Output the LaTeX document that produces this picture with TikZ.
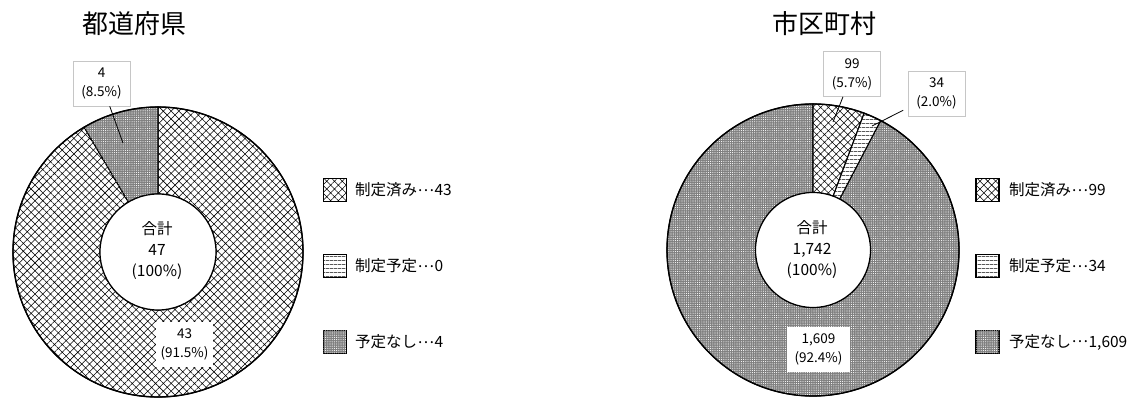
\documentclass[tikz,border=0pt]{standalone}
\usepackage{fontspec}
\setmainfont{Noto Sans CJK JP}
\usetikzlibrary{patterns.meta,calc}
\newcommand{\ringseg}[6]{%
  \path[#6] ($(#1)+(#2:#4)$) arc[start angle=#2,end angle=#3,radius=#4]
    -- ($(#1)+(#3:#5)$) arc[start angle=#3,end angle=#2,radius=#5] -- cycle;}
\newcommand{\middots}{\hspace{0.5pt}\raisebox{0.3em}{…}\hspace{0.5pt}}
\tikzset{
  seg/.style={draw=black,line width=1.1pt},
  donestyle/.style={fill=white,postaction={pattern={Hatch[angle=45,distance=5.5pt,line width=0.55pt]}}},
  planstyle/.style={fill=white,postaction={pattern={Lines[angle=0,distance=4pt,line width=0.6pt]}}},
  nonestyle/.style={fill=black!50,postaction={pattern={Dots[radius=0.55pt,distance=2.2pt]},pattern color=white}},
  titletext/.style={font=\fontsize{26}{30}\selectfont},
  ctrtext/.style={align=center,font=\fontsize{15.5}{21}\selectfont},
  labbox/.style={draw=gray!45,line width=0.6pt,fill=white,align=center,inner sep=2pt,
    minimum width=57pt,minimum height=45pt,font=\fontsize{13.5}{19}\selectfont},
  labplain/.style={labbox,draw=none},
  leader/.style={draw=black,line width=0.8pt},
  legsq/.style={draw=black,line width=1.6pt,minimum size=23pt,inner sep=0pt},
  legtext/.style={anchor=west,inner sep=0pt,font=\fontsize{15.5}{18}\selectfont}
}
\begin{document}
\begin{tikzpicture}[x=1pt,y=1pt]
\useasboundingbox (0,0) rectangle (1131,399);
% ---------- left donut ----------
\coordinate (c1) at (158,147);
\node[titletext] (t1) at (134,375) {都道府県};
\ringseg{c1}{120.6}{450}{145}{58}{seg,donestyle}
\ringseg{c1}{90}{120.6}{145}{58}{seg,nonestyle}
\draw[line width=1.4pt] (c1) circle[radius=145];
\draw[line width=1.2pt,fill=white] (c1) circle[radius=58];
\node[ctrtext] (ctr1) at (157,148) {合計\\47\\(100\%)};
\node[labbox] (lab4) at (101.5,315.5) {4\\(8.5\%)};
\coordinate (tip4) at (123,256);
\draw[leader] (lab4) -- (tip4);
\node[labplain] (lab43) at (184.5,54.5) {43\\(91.5\%)};
% legend left
\node[legsq,donestyle] (lk1) at (335,209) {};
\node[legsq,planstyle] (lk2) at (335,133) {};
\node[legsq,nonestyle] (lk3) at (335,57) {};
\node[legtext] (lt1) at (355,209) {制定済み\middots 43};
\node[legtext] (lt2) at (355,133) {制定予定\middots 0};
\node[legtext] (lt3) at (355,57) {予定なし\middots 4};
% ---------- right donut ----------
\coordinate (c2) at (813,149);
\node[titletext] (t2) at (824,375) {市区町村};
\ringseg{c2}{90}{422.4}{146}{57.5}{seg,nonestyle}
\ringseg{c2}{69.5}{90}{146}{57.5}{seg,donestyle}
\ringseg{c2}{62.4}{69.5}{146}{57.5}{seg,planstyle}
\draw[line width=1.4pt] (c2) circle[radius=146];
\draw[line width=1.2pt,fill=white] (c2) circle[radius=57.5];
\node[ctrtext] (ctr2) at (812,149) {合計\\1,742\\(100\%)};
\node[labbox] (lab99) at (852,325) {99\\(5.7\%)};
\coordinate (tip99) at (833,277);
\draw[leader] (lab99) -- (tip99);
\node[labbox] (lab34) at (936.5,305.5) {34\\(2.0\%)};
\coordinate (tip34) at (872,273);
\draw[leader,shorten <=5pt] (lab34) -- (tip34);
\node[labplain,minimum width=63pt] (lab1609) at (818.5,49.5) {1,609\\(92.4\%)};
% legend right
\node[legsq,donestyle] (rk1) at (987.5,209) {};
\node[legsq,planstyle] (rk2) at (987.5,133) {};
\node[legsq,nonestyle] (rk3) at (987.5,57) {};
\node[legtext] (rt1) at (1009,209) {制定済み\middots 99};
\node[legtext] (rt2) at (1009,133) {制定予定\middots 34};
\node[legtext] (rt3) at (1009,57) {予定なし\middots 1,609};
\end{tikzpicture}
\end{document}
